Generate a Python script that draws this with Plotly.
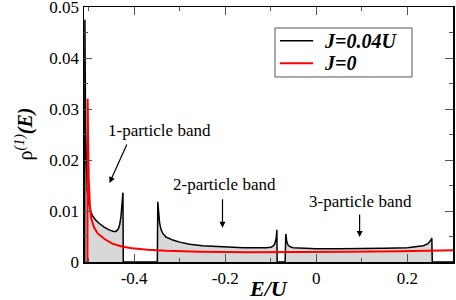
import plotly.graph_objects as go

# J = 0.04U curve
black_E = [-0.5085, -0.508, -0.5065, -0.505, -0.503, -0.498, -0.492, -0.485, -0.477, -0.465,
           -0.455, -0.445, -0.44, -0.435, -0.432, -0.429, -0.427, -0.4255, -0.4245, -0.4238,
           -0.423, -0.349, -0.348, -0.346, -0.344, -0.341, -0.337, -0.33, -0.315, -0.3,
           -0.278, -0.25, -0.206, -0.16, -0.11, -0.1, -0.095, -0.091, -0.088, -0.0866,
           -0.086, -0.0685, -0.067, -0.065, -0.062, -0.058, -0.051, -0.03, 0.0, 0.05,
           0.1, 0.15, 0.2, 0.22, 0.235, 0.245, 0.25, 0.2535, 0.2545, 0.30]
black_rho = [0.0, 0.0475, 0.026, 0.018, 0.014, 0.0108, 0.0092, 0.0083, 0.0076, 0.0068,
             0.0063, 0.006, 0.006, 0.0064, 0.0072, 0.0088, 0.0105, 0.0125, 0.0136, 0.0,
             0.0, 0.0, 0.0118, 0.0092, 0.0076, 0.0064, 0.0056, 0.0049, 0.0043, 0.0039,
             0.0035, 0.0032, 0.003, 0.0028, 0.0028, 0.0029, 0.0031, 0.0036, 0.0047, 0.0063,
             0.0, 0.0, 0.0055, 0.004, 0.0033, 0.003, 0.0028, 0.0027, 0.0026, 0.0026,
             0.0026, 0.0027, 0.0028, 0.003, 0.0032, 0.0036, 0.0041, 0.0047, 0.0, 0.0]

# J = 0 curve
red_E = [-0.5025, -0.502, -0.501, -0.4995, -0.497, -0.494, -0.488, -0.48, -0.465, -0.448,
         -0.425, -0.404, -0.37, -0.33, -0.256, -0.147, -0.037, 0.073, 0.183, 0.30]
red_rho = [0.0, 0.032, 0.024, 0.016, 0.011, 0.0085, 0.0068, 0.0056, 0.0045, 0.0036,
           0.003, 0.0027, 0.0024, 0.0022, 0.002, 0.0019, 0.0019, 0.002, 0.0021, 0.0023]

series_names = ["J=0.04U", "J=0"]
series_colors = ["black", "#ff0000"]

x_ticks = [-0.4, -0.2, 0.0, 0.2]
x_tick_labels = ["-0.4", "-0.2", "0", "0.2"]
y_ticks = [0.0, 0.01, 0.02, 0.03, 0.04, 0.05]
y_tick_labels = ["0", "0.01", "0.02", "0.03", "0.04", "0.05"]

SERIF = "Liberation Serif, Times New Roman, serif"

fig = go.Figure()
fig.add_trace(go.Scatter(x=black_E, y=black_rho, mode="lines", fill="tozeroy",
                         fillcolor="rgb(216,216,216)", line=dict(width=0, color="rgba(0,0,0,0)"),
                         showlegend=False, hoverinfo="skip"))
fig.add_trace(go.Scatter(x=black_E, y=black_rho, mode="lines", name=series_names[0],
                         line=dict(color=series_colors[0], width=1.5), showlegend=False))
fig.add_trace(go.Scatter(x=red_E, y=red_rho, mode="lines", name=series_names[1],
                         line=dict(color=series_colors[1], width=2), showlegend=False))

axis_common = dict(showline=True, linecolor="black", linewidth=1.5, mirror="ticks",
                   ticks="inside", ticklen=8, tickwidth=1, tickcolor="#555",
                   showgrid=False, zeroline=False, automargin=False,
                   ticklabeloverflow="allow",
                   tickfont=dict(family=SERIF, size=17, color="black"))

fig.update_xaxes(range=[-0.51, 0.30], tickvals=x_ticks, ticktext=x_tick_labels,
                 minor=dict(dtick=0.1, ticklen=4, tickcolor="#555", ticks="inside", tick0=0),
                 **axis_common)
fig.update_yaxes(range=[0, 0.0500001], tickvals=y_ticks, ticktext=y_tick_labels,
                 minor=dict(dtick=0.005, ticklen=4, tickcolor="#555", ticks="inside", tick0=0),
                 **axis_common)

annotations = [
    dict(xref="paper", yref="paper", x=-0.1626, y=0.5, xanchor="center", yanchor="middle",
         textangle=-90, showarrow=False,
         text="ρ<sup><i>(1)</i></sup><b><i>(E)</i></b>",
         font=dict(family=SERIF, size=20, color="black")),
    dict(xref="paper", yref="paper", x=0.5, y=-0.102, xanchor="center", yanchor="middle",
         showarrow=False, text="<b><i>E/U</i></b>",
         font=dict(family=SERIF, size=22, color="black")),
    dict(x=-0.344, y=0.0257, text="1-particle band", showarrow=False,
         font=dict(family=SERIF, size=17, color="black")),
    dict(x=-0.454, y=0.0155, ax=18, ay=-40, text="", showarrow=True, arrowhead=2,
         arrowsize=1, arrowwidth=1.2, arrowcolor="black"),
    dict(x=-0.2015, y=0.0151, text="2-particle band", showarrow=False,
         font=dict(family=SERIF, size=17, color="black")),
    dict(x=-0.206, y=0.0067, ax=0, ay=-30, text="", showarrow=True, arrowhead=2,
         arrowsize=1, arrowwidth=1.2, arrowcolor="black"),
    dict(x=0.096, y=0.0118, text="3-particle band", showarrow=False,
         font=dict(family=SERIF, size=17, color="black")),
    dict(x=0.095, y=0.0049, ax=0, ay=-24, text="", showarrow=True, arrowhead=2,
         arrowsize=1, arrowwidth=1.2, arrowcolor="black"),
]

# manual legend
shapes = [dict(type="rect", xref="paper", yref="paper", x0=0.5176, x1=0.8889, y0=0.7255, y1=0.9176,
               line=dict(color="#555", width=1), fillcolor="white", layer="above")]
legend_rows_y = [0.8678, 0.779]
for name, color, yy in zip(series_names, series_colors, legend_rows_y):
    shapes.append(dict(type="line", xref="paper", yref="paper", x0=0.531, x1=0.621, y0=yy, y1=yy,
                       line=dict(color=color, width=2 if color != "black" else 1.5), layer="above"))
    annotations.append(dict(xref="paper", yref="paper", x=0.644, y=yy, xanchor="left",
                            yanchor="middle", showarrow=False, text=f"<b><i>{name}</i></b>",
                            font=dict(family=SERIF, size=20, color="black")))

fig.update_layout(
    width=456, height=300,
    margin=dict(l=84, r=3, t=7, b=38),
    plot_bgcolor="white", paper_bgcolor="white",
    annotations=annotations, shapes=shapes,
    showlegend=False,
)

fig.write_html("out.html", config={"displayModeBar": False, "staticPlot": True},
               post_script="document.body.style.margin='0';document.body.style.overflow='hidden';")
